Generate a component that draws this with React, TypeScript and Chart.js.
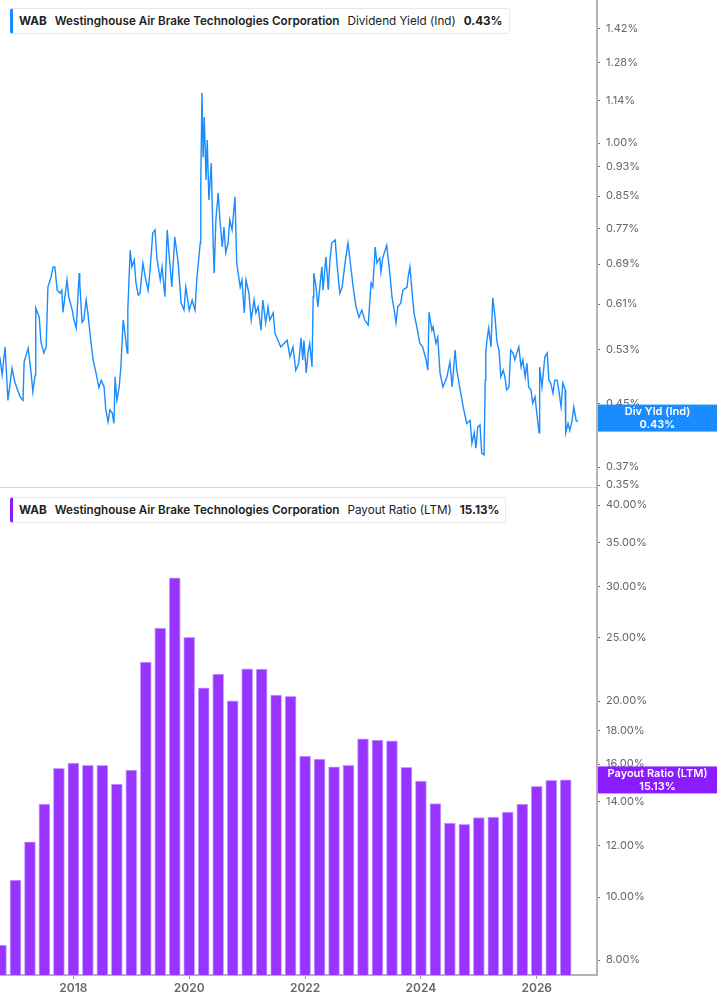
import { useEffect, useRef } from 'react'
import Chart from 'chart.js/auto'

// ---- data ----
const DIV_T = [
    2016.73, 2016.77, 2016.82, 2016.87, 2016.94, 2016.99, 2017.08, 2017.13, 2017.15, 2017.22,
    2017.27, 2017.30, 2017.34, 2017.35, 2017.41, 2017.44, 2017.49, 2017.53, 2017.56, 2017.61,
    2017.65, 2017.68, 2017.72, 2017.77, 2017.80, 2017.82, 2017.89, 2017.92, 2017.98, 2018.01,
    2018.05, 2018.10, 2018.11, 2018.15, 2018.18, 2018.22, 2018.25, 2018.30, 2018.34, 2018.39,
    2018.44, 2018.48, 2018.53, 2018.56, 2018.60, 2018.63, 2018.67, 2018.70, 2018.72, 2018.75,
    2018.79, 2018.82, 2018.86, 2018.89, 2018.93, 2018.94, 2018.98, 2019.01, 2019.05, 2019.08,
    2019.12, 2019.15, 2019.20, 2019.24, 2019.29, 2019.32, 2019.37, 2019.41, 2019.44, 2019.50,
    2019.53, 2019.58, 2019.62, 2019.65, 2019.70, 2019.75, 2019.81, 2019.86, 2019.91, 2019.94,
    2020.00, 2020.05, 2020.10, 2020.13, 2020.19, 2020.20, 2020.22, 2020.24, 2020.26, 2020.29,
    2020.31, 2020.34, 2020.38, 2020.41, 2020.43, 2020.46, 2020.50, 2020.53, 2020.57, 2020.60,
    2020.63, 2020.67, 2020.70, 2020.74, 2020.79, 2020.82, 2020.88, 2020.91, 2020.95, 2020.98,
    2021.03, 2021.07, 2021.12, 2021.15, 2021.19, 2021.24, 2021.27, 2021.32, 2021.36, 2021.39,
    2021.45, 2021.48, 2021.51, 2021.58, 2021.64, 2021.69, 2021.74, 2021.79, 2021.84, 2021.89,
    2021.93, 2021.96, 2021.98, 2022.02, 2022.05, 2022.08, 2022.12, 2022.14, 2022.15, 2022.19,
    2022.22, 2022.29, 2022.31, 2022.36, 2022.40, 2022.43, 2022.46, 2022.52, 2022.55, 2022.60,
    2022.64, 2022.69, 2022.74, 2022.77, 2022.83, 2022.88, 2022.93, 2022.98, 2023.03, 2023.09,
    2023.14, 2023.17, 2023.21, 2023.24, 2023.29, 2023.31, 2023.34, 2023.41, 2023.47, 2023.50,
    2023.53, 2023.57, 2023.60, 2023.65, 2023.69, 2023.76, 2023.78, 2023.81, 2023.84, 2023.88,
    2023.93, 2023.98, 2024.03, 2024.09, 2024.12, 2024.14, 2024.19, 2024.21, 2024.26, 2024.29,
    2024.33, 2024.38, 2024.45, 2024.50, 2024.54, 2024.59, 2024.62, 2024.67, 2024.73, 2024.79,
    2024.85, 2024.88, 2024.92, 2024.95, 2024.98, 2025.02, 2025.05, 2025.09, 2025.11, 2025.12,
    2025.14, 2025.17, 2025.21, 2025.24, 2025.28, 2025.31, 2025.35, 2025.38, 2025.42, 2025.45,
    2025.48, 2025.52, 2025.55, 2025.59, 2025.62, 2025.69, 2025.73, 2025.76, 2025.80, 2025.83,
    2025.86, 2025.90, 2025.93, 2025.97, 2026.00, 2026.04, 2026.05, 2026.09, 2026.14, 2026.18,
    2026.21, 2026.24, 2026.28, 2026.31, 2026.35, 2026.38, 2026.42, 2026.45, 2026.49, 2026.50,
    2026.54, 2026.57, 2026.61, 2026.64, 2026.68, 2026.71,
]
const DIV_YIELD = [
    0.519, 0.491, 0.535, 0.454, 0.501, 0.480, 0.459, 0.454, 0.511, 0.533,
    0.494, 0.466, 0.491, 0.603, 0.586, 0.543, 0.525, 0.535, 0.643, 0.661,
    0.684, 0.684, 0.637, 0.631, 0.637, 0.595, 0.657, 0.624, 0.599, 0.581,
    0.567, 0.671, 0.651, 0.577, 0.581, 0.618, 0.594, 0.546, 0.514, 0.494,
    0.472, 0.483, 0.473, 0.441, 0.425, 0.441, 0.437, 0.423, 0.488, 0.454,
    0.473, 0.503, 0.581, 0.558, 0.525, 0.599, 0.720, 0.684, 0.699, 0.651,
    0.627, 0.631, 0.692, 0.663, 0.637, 0.671, 0.759, 0.766, 0.705, 0.657,
    0.684, 0.624, 0.766, 0.714, 0.643, 0.750, 0.692, 0.612, 0.599, 0.643,
    0.599, 0.618, 0.599, 0.657, 0.736, 0.893, 1.167, 0.958, 1.084, 0.893,
    1.010, 0.840, 0.941, 0.750, 0.671, 0.790, 0.858, 0.790, 0.727, 0.773,
    0.714, 0.736, 0.790, 0.766, 0.848, 0.692, 0.643, 0.657, 0.594, 0.657,
    0.631, 0.581, 0.618, 0.594, 0.605, 0.563, 0.618, 0.576, 0.605, 0.581,
    0.594, 0.558, 0.551, 0.535, 0.541, 0.546, 0.519, 0.535, 0.498, 0.509,
    0.550, 0.514, 0.546, 0.494, 0.525, 0.541, 0.503, 0.624, 0.671, 0.643,
    0.605, 0.684, 0.637, 0.705, 0.637, 0.699, 0.736, 0.743, 0.692, 0.631,
    0.643, 0.692, 0.736, 0.705, 0.643, 0.605, 0.586, 0.599, 0.581, 0.572,
    0.651, 0.643, 0.727, 0.692, 0.703, 0.673, 0.703, 0.731, 0.663, 0.624,
    0.605, 0.576, 0.605, 0.612, 0.637, 0.643, 0.663, 0.684, 0.643, 0.594,
    0.569, 0.541, 0.535, 0.514, 0.498, 0.595, 0.563, 0.569, 0.541, 0.551,
    0.494, 0.473, 0.488, 0.511, 0.473, 0.530, 0.498, 0.473, 0.445, 0.423,
    0.427, 0.398, 0.411, 0.392, 0.418, 0.421, 0.386, 0.384, 0.483, 0.525,
    0.546, 0.567, 0.535, 0.622, 0.586, 0.546, 0.527, 0.488, 0.498, 0.488,
    0.469, 0.473, 0.530, 0.525, 0.514, 0.535, 0.503, 0.514, 0.488, 0.509,
    0.473, 0.469, 0.450, 0.459, 0.437, 0.411, 0.503, 0.473, 0.519, 0.525,
    0.483, 0.479, 0.464, 0.483, 0.483, 0.469, 0.445, 0.479, 0.469, 0.411,
    0.423, 0.414, 0.427, 0.445, 0.427, 0.425,
]

const QUARTERS = [
    '2016 Q3', '2016 Q4',
    '2017 Q1', '2017 Q2', '2017 Q3', '2017 Q4',
    '2018 Q1', '2018 Q2', '2018 Q3', '2018 Q4',
    '2019 Q1', '2019 Q2', '2019 Q3', '2019 Q4',
    '2020 Q1', '2020 Q2', '2020 Q3', '2020 Q4',
    '2021 Q1', '2021 Q2', '2021 Q3', '2021 Q4',
    '2022 Q1', '2022 Q2', '2022 Q3', '2022 Q4',
    '2023 Q1', '2023 Q2', '2023 Q3', '2023 Q4',
    '2024 Q1', '2024 Q2', '2024 Q3', '2024 Q4',
    '2025 Q1', '2025 Q2', '2025 Q3', '2025 Q4',
    '2026 Q1', '2026 Q2',
]
const PAYOUT = [
    8.44, 10.62, 12.16, 13.89, 15.76, 16.06, 15.93, 15.93, 14.91, 15.66,
    22.95, 25.89, 30.93, 25.05, 20.96, 22.0, 20.02, 22.42, 22.39, 20.42,
    20.33, 16.46, 16.29, 15.85, 15.93, 17.50, 17.42, 17.38, 15.82, 15.07,
    13.92, 12.99, 12.93, 13.24, 13.27, 13.50, 13.89, 14.79, 15.11, 15.13,
]

const YIELD_TICKS = [0.35, 0.37, 0.45, 0.53, 0.61, 0.69, 0.77, 0.85, 0.93, 1.0, 1.14, 1.28, 1.42]
const PAYOUT_TICKS = [8, 10, 12, 14, 16, 18, 20, 25, 30, 35, 40]
const YEAR_TICKS = [2018, 2020, 2022, 2024, 2026]

const CUR_YIELD = 0.43
const CUR_PAYOUT = 15.13

const X_MIN = 2016.733
const X_MAX = 2027.04
const BLUE = '#1a8cff'
const PURPLE = '#9933ff'
const BADGE_PURPLE = '#8a1cff'
const FONT = 'Inter, "Noto Sans", sans-serif'

// quarter end as decimal year
const qToYear = (q: string) => {
    const [y, n] = q.split(' Q')
    return Number(y) + Number(n) * 0.25
}

const badge = (value: number, l1: string, l2: string, color: string) => ({
    id: 'badge',
    afterDraw(chart: any) {
        const { ctx, chartArea, scales } = chart
        const y = scales.y.getPixelForValue(value)
        const x0 = chartArea.right + 1
        ctx.save()
        ctx.fillStyle = color
        ctx.fillRect(x0, y - 13.5, chart.width - x0, 27)
        ctx.fillStyle = '#fff'
        ctx.font = `600 11px ${FONT}`
        ctx.textAlign = 'center'
        ctx.textBaseline = 'middle'
        const cx = (x0 + chart.width) / 2
        ctx.fillText(l1, cx, y - 6)
        ctx.fillText(l2, cx, y + 6.5)
        ctx.restore()
    },
})

const noPad = (s: any) => { s.paddingTop = 0; s.paddingBottom = 0; s.paddingLeft = 0; s.paddingRight = 0 }

const yAxis = (min: number, max: number, ticks: number[]) => ({
    type: 'logarithmic' as const,
    position: 'right' as const,
    bounds: 'data' as const,
    min, max,
    afterBuildTicks: (s: any) => { s.ticks = ticks.map(v => ({ value: v })); s.min = min; s.max = max },
    afterFit: (s: any) => { s.width = 120; noPad(s) },
    grid: { drawOnChartArea: false, tickLength: 3, color: '#777' },
    border: { color: '#b3b3b3', width: 2 },
    ticks: {
        autoSkip: false, padding: 6, color: '#666',
        font: { family: FONT, size: 11 },
        callback: (v: any) => Number(v).toFixed(2) + '%',
    },
})

function Legend({ top, color, metric, value }: { top: number; color: string; metric: string; value: string }) {
    return (
        <div style={{
            position: 'absolute', left: 10, top, height: 24, display: 'flex', alignItems: 'center', gap: 8,
            border: '1px solid #e8e8e8', borderLeft: `3px solid ${color}`, borderRadius: 3, background: '#fff',
            padding: '0 6px 0 6px', fontFamily: FONT, fontSize: 11.7, color: '#222', whiteSpace: 'nowrap',
        }}>
            <span style={{ fontWeight: 700 }}>WAB</span>
            <span style={{ fontWeight: 600 }}>Westinghouse Air Brake Technologies Corporation</span>
            <span style={{ fontWeight: 400 }}>{metric}</span>
            <span style={{ fontWeight: 700 }}>{value}</span>
        </div>
    )
}

export default function App() {
    const topRef = useRef<HTMLCanvasElement>(null)
    const botRef = useRef<HTMLCanvasElement>(null)

    useEffect(() => {
        const top = new Chart(topRef.current!, {
            type: 'line',
            plugins: [badge(CUR_YIELD, 'Div Yld (Ind)', CUR_YIELD.toFixed(2) + '%', BLUE)],
            data: {
                datasets: [{
                    data: DIV_T.map((t, i) => ({ x: t, y: DIV_YIELD[i] })),
                    borderColor: BLUE, borderWidth: 1.4, pointRadius: 0, tension: 0,
                }],
            },
            options: {
                animation: false, responsive: true, maintainAspectRatio: false,
                layout: { padding: 0 },
                plugins: { legend: { display: false }, tooltip: { enabled: false } },
                scales: {
                    x: {
                        type: 'linear', min: X_MIN, max: X_MAX, offset: false,
                        afterFit: (s: any) => { s.height = 1; noPad(s) },
                        grid: { display: false },
                        ticks: { display: false },
                        border: { color: '#d6d6d6', width: 1 },
                    },
                    y: yAxis(0.348, 1.552, YIELD_TICKS),
                },
            },
        })

        const bot = new Chart(botRef.current!, {
            type: 'bar',
            plugins: [badge(CUR_PAYOUT, 'Payout Ratio (LTM)', CUR_PAYOUT.toFixed(2) + '%', BADGE_PURPLE)],
            data: {
                datasets: [{
                    data: QUARTERS.map((q, i) => ({ x: qToYear(q), y: PAYOUT[i] })),
                    backgroundColor: PURPLE, borderColor: '#c9a3ff', borderWidth: 1,
                    barThickness: 11, borderSkipped: 'bottom',
                }],
            },
            options: {
                animation: false, responsive: true, maintainAspectRatio: false,
                layout: { padding: 0 },
                plugins: { legend: { display: false }, tooltip: { enabled: false } },
                scales: {
                    x: {
                        type: 'linear', min: X_MIN, max: X_MAX, offset: false,
                        afterBuildTicks: (s: any) => { s.ticks = YEAR_TICKS.map(v => ({ value: v })); s.min = X_MIN; s.max = X_MAX },
                        afterFit: (s: any) => { s.height = 30; noPad(s) },
                        grid: { drawOnChartArea: false, offset: false, tickLength: 4, color: '#999' },
                        border: { color: '#b3b3b3', width: 2 },
                        ticks: {
                            autoSkip: false, maxRotation: 0, padding: 2, color: '#666',
                            font: { family: FONT, size: 12, weight: 600 },
                            callback: (v: any) => String(v),
                        },
                    },
                    y: yAxis(7.59, 42.48, PAYOUT_TICKS),
                },
            },
        })

        return () => { top.destroy(); bot.destroy() }
    }, [])

    return (
        <div style={{ position: 'absolute', left: 0, top: 0, width: 717, height: 1005, background: '#fff' }}>
            <div style={{ position: 'absolute', left: 0, top: 0, width: 717, height: 488 }}>
                <canvas ref={topRef} />
            </div>
            <div style={{ position: 'absolute', left: 0, top: 488, width: 717, height: 517 }}>
                <canvas ref={botRef} />
            </div>
            <Legend top={8} color={BLUE} metric="Dividend Yield (Ind)" value={CUR_YIELD.toFixed(2) + '%'} />
            <Legend top={497} color={BADGE_PURPLE} metric="Payout Ratio (LTM)" value={CUR_PAYOUT.toFixed(2) + '%'} />
        </div>
    )
}
